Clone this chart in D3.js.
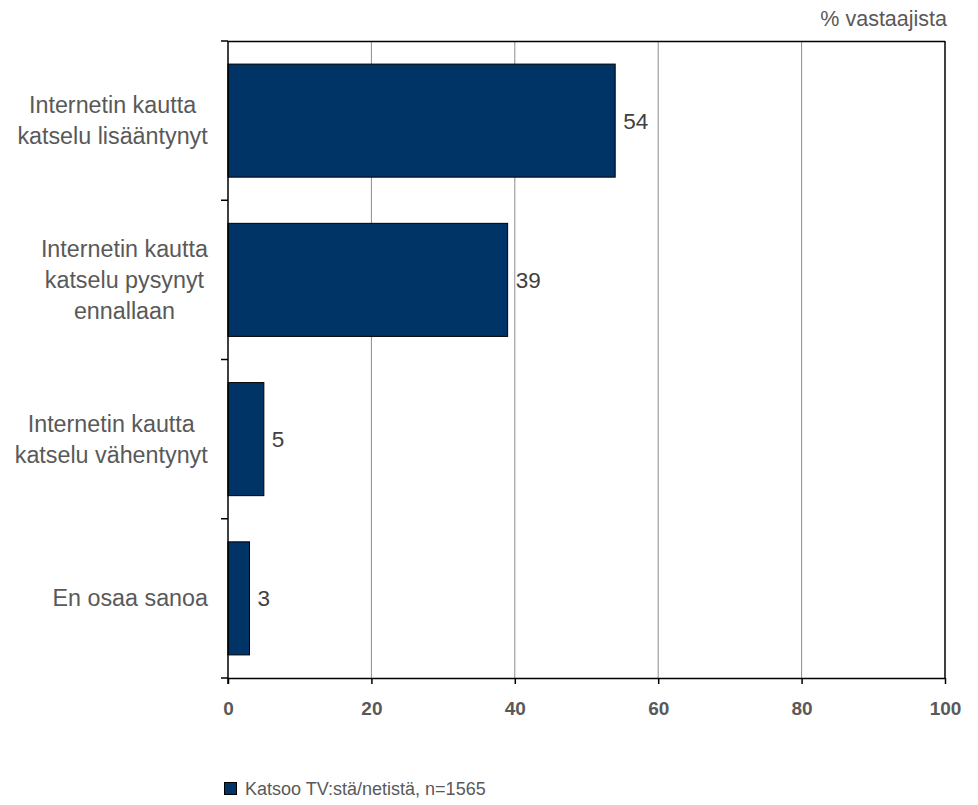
<!DOCTYPE html>
<html>
<head>
<meta charset="utf-8">
<script src="https://cdn.jsdelivr.net/npm/d3@7"></script>
<style>
  body { margin: 0; background: #fff; }
  text { font-family: "Liberation Sans", Arial, sans-serif; }
</style>
</head>
<body>
<svg id="chart" width="978" height="805"></svg>
<script>
const categories = [
  ["Internetin kautta", "katselu lisääntynyt"],
  ["Internetin kautta", "katselu pysynyt", "ennallaan"],
  ["Internetin kautta", "katselu vähentynyt"],
  ["En osaa sanoa"]
];
const values = [54, 39, 5, 3];
const xTicks = [0, 20, 40, 60, 80, 100];
const seriesName = "Katsoo TV:stä/netistä, n=1565";
const unitLabel = "% vastaajista";

(function () {
const svg = d3.select("#chart");
const pL = 228, pR = 945, pT = 41, pB = 678;
const x = d3.scaleLinear().domain([0, 100]).range([pL, pR]);
const ids = categories.map((c, i) => i);
const y = d3.scaleBand().domain(ids).range([pT, pB]).paddingInner(0.29).paddingOuter(0.145);

// gridlines
svg.append("g").selectAll("line").data(xTicks.filter(t => t > 0 && t < 100)).join("line")
  .attr("x1", d => x(d)).attr("x2", d => x(d))
  .attr("y1", pT).attr("y2", pB)
  .attr("stroke", "#8c8c8c").attr("stroke-width", 1);

// frame top & right
svg.append("line").attr("x1", pL).attr("x2", pR).attr("y1", pT + 0.5).attr("y2", pT + 0.5)
  .attr("stroke", "#000").attr("stroke-width", 1.5);
svg.append("line").attr("x1", pR).attr("x2", pR).attr("y1", pT).attr("y2", pB)
  .attr("stroke", "#000").attr("stroke-width", 1.5);

// bars
svg.append("g").selectAll("rect").data(values).join("rect")
  .attr("x", x(0))
  .attr("y", (d, i) => y(i))
  .attr("width", d => x(d) - x(0))
  .attr("height", y.bandwidth())
  .attr("fill", "#003366")
  .attr("stroke", "#000").attr("stroke-width", 1);

// value labels
svg.append("g").selectAll("text").data(values).join("text")
  .attr("x", d => x(d) + 8)
  .attr("y", (d, i) => y(i) + y.bandwidth() / 2 + 8)
  .attr("font-size", 22.5)
  .attr("fill", "#404040")
  .text(d => d);

// x axis
const xAxis = d3.axisBottom(x).tickValues(xTicks).tickSize(6).tickPadding(0).tickSizeOuter(0);
const gx = svg.append("g").attr("transform", `translate(0,${pB})`).call(xAxis);
gx.select(".domain").attr("stroke", "#000").attr("stroke-width", 1.5);
gx.selectAll(".tick line").attr("stroke", "#000").attr("stroke-width", 1.5);
gx.selectAll(".tick text").attr("font-size", 19).attr("font-weight", "bold")
  .attr("fill", "#595959").attr("dy", null).attr("y", 37)
  .style("font-family", '"Liberation Sans", Arial, sans-serif');

// y axis with ticks at band boundaries
svg.append("line").attr("x1", pL).attr("x2", pL).attr("y1", pT).attr("y2", pB + 6)
  .attr("stroke", "#000").attr("stroke-width", 1.5);
const boundaries = d3.range(categories.length + 1).map(i => pT + i * (pB - pT) / categories.length);
svg.append("g").selectAll("line").data(boundaries).join("line")
  .attr("x1", pL - 7).attr("x2", pL)
  .attr("y1", d => d).attr("y2", d => d)
  .attr("stroke", "#000").attr("stroke-width", 1.5);

// category labels
const lineH = 31;
const catG = svg.append("g");
categories.forEach((lines, i) => {
  const cy = y(i) + y.bandwidth() / 2;
  const t = catG.append("text").attr("font-size", 23.3).attr("fill", "#595959").attr("text-anchor", "middle");
  lines.forEach((ln, j) => {
    t.append("tspan").attr("x", 0).attr("y", cy - (lines.length - 1) / 2 * lineH + 8 + j * lineH).text(ln);
  });
  const w = t.node().getBBox().width;
  t.selectAll("tspan").attr("x", 208 - w / 2);
});

// unit label
svg.append("text").attr("x", 947).attr("y", 26).attr("text-anchor", "end")
  .attr("font-size", 21.5).attr("fill", "#595959").text(unitLabel);

// legend
svg.append("rect").attr("x", 224.5).attr("y", 782.5).attr("width", 12).attr("height", 12)
  .attr("fill", "#003366").attr("stroke", "#000").attr("stroke-width", 1);
svg.append("text").attr("x", 245).attr("y", 795).attr("font-size", 18).attr("fill", "#595959").text(seriesName);
})();
</script>
</body>
</html>
